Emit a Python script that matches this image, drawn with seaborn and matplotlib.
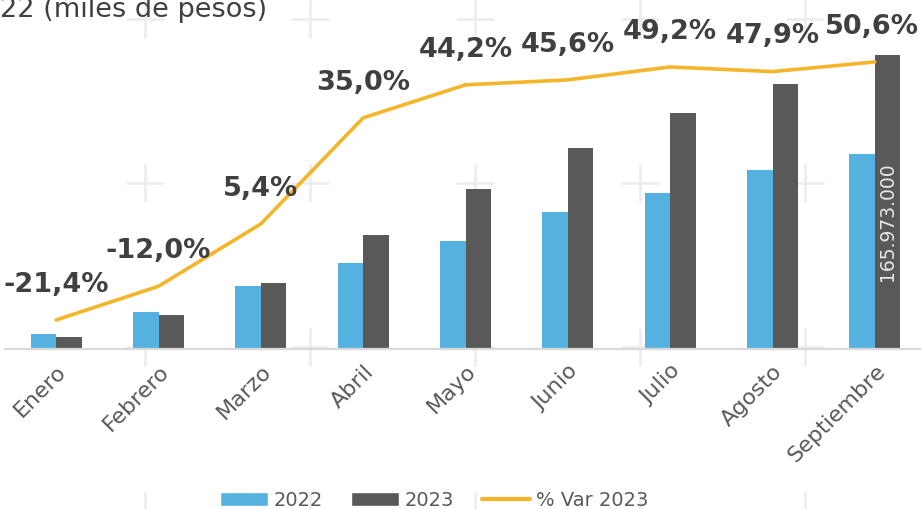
import numpy as np
import pandas as pd
import matplotlib
matplotlib.use("Agg")
import matplotlib.pyplot as plt
from matplotlib.patches import Patch
from matplotlib.lines import Line2D
import seaborn as sns

# %%
# Data (miles de pesos)
months = ["Enero", "Febrero", "Marzo", "Abril", "Mayo", "Junio", "Julio", "Agosto", "Septiembre"]
v2022 = [8.5e6, 21.0e6, 35.7e6, 48.3e6, 60.9e6, 77.3e6, 88.0e6, 100.9e6, 110.2e6]
v2023 = [6.7e6, 18.9e6, 37.2e6, 64.5e6, 90.2e6, 113.4e6, 133.1e6, 149.4e6, 165.973e6]
var_2023 = [-21.4, -12.0, 5.4, 35.0, 44.2, 45.6, 49.2, 47.9, 50.6]

BLUE = "#55B2E0"
DARK = "#595959"
GOLD = "#F5B52A"
TEXT = "#404040"

sns.set_theme(style="white")
plt.rcParams["font.family"] = ["DejaVu Sans"]

df = pd.DataFrame({
    "mes": months * 2,
    "anio": ["2022"] * len(months) + ["2023"] * len(months),
    "valor": v2022 + v2023,
})

# %%
W, H = 921, 510
fig = plt.figure(figsize=(W / 100, H / 100), dpi=100)

# faint watermark crosses in the background
bg = fig.add_axes([0, 0, 1, 1], zorder=-5)
bg.set_xlim(0, W)
bg.set_ylim(H, 0)
bg.axis("off")
for cx in np.arange(145, W, 165):
    for cy in np.arange(20, H + 20, 164):
        bg.plot([cx - 18, cx + 18], [cy, cy], color="#ececec", lw=1.8)
        bg.plot([cx, cx], [cy - 18, cy + 18], color="#ececec", lw=1.8)

ax = fig.add_axes([5 / W, 160 / H, 1.0, 310 / H])
ax.patch.set_alpha(0)

sns.barplot(data=df, x="mes", y="valor", hue="anio", palette=[BLUE, DARK],
            width=0.5, saturation=1, linewidth=0, ax=ax, legend=False)
ax.set_ylim(0, 174.8e6)
ax.set_xlim(-0.5, len(months) - 0.5)
ax.set_xlabel("")
ax.set_ylabel("")
ax.set_yticks([])
for s in ["top", "left", "right"]:
    ax.spines[s].set_visible(False)
ax.spines["bottom"].set_color("#d9d9d9")
ax.spines["bottom"].set_linewidth(1.6)
ax.set_xticks(range(len(months)))
ax.set_xticklabels(months, rotation=45, ha="right", va="top", rotation_mode="anchor")
ax.tick_params(axis="x", length=0, pad=8, labelsize=16, labelcolor=DARK)

# value label inside the last 2023 bar
last = v2023[-1]
ax.text(len(months) - 1 + 0.125, last * 0.435, f"{last:,.0f}".replace(",", "."),
        rotation=90, ha="center", va="center", fontsize=13.5, color="#e8e8e8")

# % variation line on a secondary axis
ax2 = ax.twinx()
sns.lineplot(x=np.arange(len(months)), y=var_2023, color=GOLD, lw=2.6, ax=ax2)
ax2.set_ylim(-29.5, 57.0)
ax2.set_yticks([])
ax2.set_ylabel("")
for s in ax2.spines.values():
    s.set_visible(False)
for i, v in enumerate(var_2023):
    ax2.annotate(f"{v:.1f}%".replace(".", ","), (i, v), xytext=(-2 if i == len(months) - 1 else 0, 21),
                 textcoords="offset points", ha="center", va="baseline",
                 fontsize=19.5, fontweight="heavy", color=TEXT)

# cropped title at the top
fig.text(0, 1 - 17 / H, "22 (miles de pesos)", ha="left", va="baseline",
         fontsize=19.5, color=TEXT)

handles = [Patch(facecolor=BLUE), Patch(facecolor=DARK), Line2D([], [], color=GOLD, lw=3)]
fig.legend(handles, ["2022", "2023", "% Var 2023"], loc="center",
           bbox_to_anchor=(434 / W, 9 / H), ncol=3, frameon=False,
           fontsize=14, labelcolor=DARK, handlelength=2.5, handleheight=0.7,
           handletextpad=0.3, columnspacing=1.4)

fig.savefig("out.png", dpi=100)
